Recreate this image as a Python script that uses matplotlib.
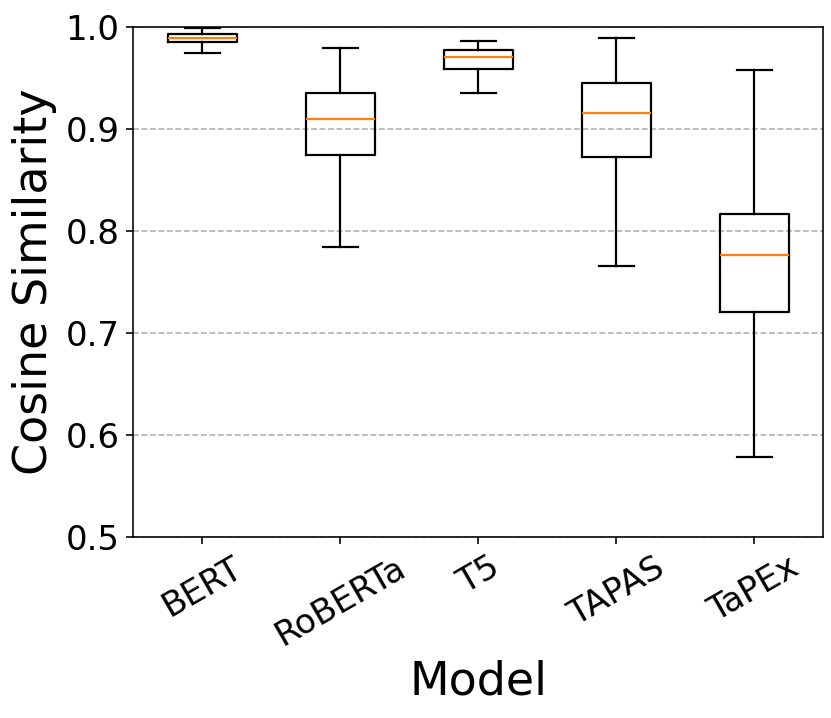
import matplotlib
matplotlib.use("Agg")
import matplotlib.pyplot as plt

models = ["BERT", "RoBERTa", "T5", "TAPAS", "TaPEx"]
whislo = [0.974, 0.784, 0.935, 0.765, 0.578]
q1 = [0.985, 0.8745, 0.959, 0.8725, 0.720]
med = [0.989, 0.9095, 0.970, 0.915, 0.776]
q3 = [0.9925, 0.935, 0.977, 0.945, 0.816]
whishi = [0.999, 0.979, 0.986, 0.989, 0.9575]

stats = [dict(label=m, whislo=a, q1=b, med=c, q3=d, whishi=e, fliers=[])
         for m, a, b, c, d, e in zip(models, whislo, q1, med, q3, whishi)]

W, H = 831, 718
DPI = 144
fig = plt.figure(figsize=(W / DPI, H / DPI), dpi=DPI)
ax = fig.add_axes([133.3 / W, 1 - 536.7 / H, 690 / W, (536.7 - 26.7) / H])
lw = 1.1
ax.bxp(stats, showfliers=False,
       boxprops=dict(linewidth=lw, color="black"),
       whiskerprops=dict(linewidth=lw, color="black"),
       capprops=dict(linewidth=lw, color="black"),
       medianprops=dict(linewidth=lw, color="#ff7f0e"))
ax.set_ylim(0.5, 1.0)
ax.set_yticks([0.5, 0.6, 0.7, 0.8, 0.9, 1.0])
ax.yaxis.grid(True, linestyle="--", color="#b0b0b0", linewidth=0.8)
ax.set_axisbelow(True)
ax.tick_params(axis="both", labelsize=17)
plt.setp(ax.get_xticklabels(), rotation=30)
ax.set_xlabel("Model", fontsize=23)
ax.set_ylabel("Cosine Similarity", fontsize=23)
fig.savefig("out.png", dpi=DPI)
